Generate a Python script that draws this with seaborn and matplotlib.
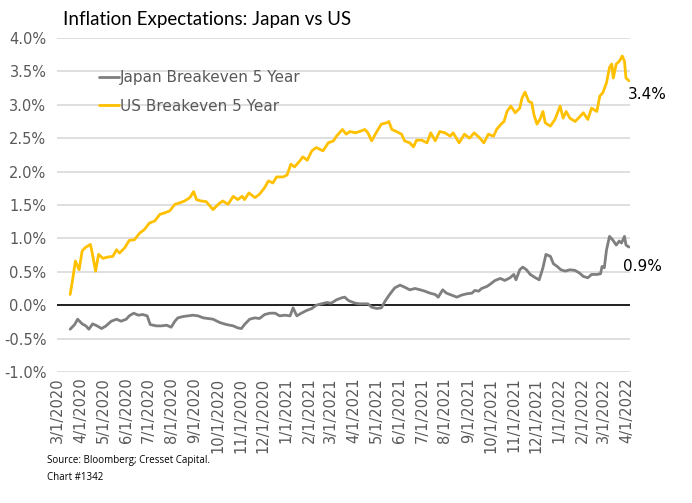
import matplotlib
matplotlib.use("Agg")
import matplotlib.pyplot as plt
import numpy as np
import pandas as pd
import seaborn as sns

# ==========================================
# Data
# days are counted from 3/1/2020, values in %
# ==========================================

START = pd.Timestamp("2020-03-01")

us_days = [
    17, 20, 24, 27, 29, 33, 37, 44, 46, 51, 55, 61, 67, 74, 79, 83, 90, 96,
    103, 110, 116, 123, 130, 137, 143, 150, 157, 163, 170, 177, 182, 186,
    192, 199, 208, 215, 221, 228, 235, 241, 247, 250, 256, 264, 270, 277,
    282, 288, 293, 302, 307, 312, 317, 324, 328, 334, 340, 346, 355, 362,
    369, 373, 381, 386, 391, 398, 404, 411, 415, 420, 427, 433, 440, 443,
    447, 453, 460, 464, 471, 476, 480, 487, 494, 499, 505, 511, 518, 525,
    529, 537, 544, 551, 557, 564, 570, 576, 583, 587, 593, 597, 601, 606,
    612, 618, 621, 625, 630, 634, 637, 641, 645, 649, 652, 659, 665, 672,
    676, 680, 685, 692, 699, 703, 709, 714, 721, 725, 729, 734, 738, 741,
    743, 747, 751, 755, 758, 760, 764,
]
us_values = [
    0.16, 0.36, 0.66, 0.58, 0.53, 0.81, 0.86, 0.91, 0.81, 0.51, 0.76, 0.70,
    0.72, 0.73, 0.83, 0.78, 0.86, 0.97, 0.98, 1.08, 1.13, 1.23, 1.26, 1.36,
    1.38, 1.41, 1.51, 1.53, 1.56, 1.61, 1.70, 1.58, 1.56, 1.55, 1.43, 1.51,
    1.56, 1.51, 1.63, 1.58, 1.63, 1.58, 1.68, 1.61, 1.66, 1.76, 1.86, 1.83,
    1.92, 1.92, 1.95, 2.11, 2.07, 2.16, 2.22, 2.17, 2.31, 2.36, 2.31, 2.43,
    2.46, 2.53, 2.63, 2.56, 2.60, 2.58, 2.60, 2.63, 2.58, 2.46, 2.60, 2.71,
    2.73, 2.75, 2.63, 2.60, 2.56, 2.46, 2.43, 2.37, 2.47, 2.47, 2.43, 2.58,
    2.46, 2.60, 2.58, 2.53, 2.58, 2.43, 2.56, 2.50, 2.58, 2.51, 2.43, 2.56,
    2.53, 2.63, 2.71, 2.75, 2.90, 2.98, 2.88, 2.95, 3.10, 3.19, 3.05, 3.03,
    2.85, 2.71, 2.78, 2.90, 2.73, 2.68, 2.78, 2.98, 2.80, 2.90, 2.80, 2.75,
    2.83, 2.88, 2.78, 2.95, 2.90, 3.13, 3.18, 3.33, 3.56, 3.61, 3.40, 3.61,
    3.65, 3.73, 3.65, 3.40, 3.36,
]

japan_days = [
    17, 23, 27, 33, 38, 42, 47, 53, 59, 65, 72, 79, 85, 92, 96, 102, 108,
    114, 120, 124, 132, 139, 146, 152, 157, 161, 168, 174, 181, 188, 195,
    201, 208, 217, 226, 235, 241, 246, 250, 257, 264, 270, 277, 284, 291,
    297, 304, 311, 315, 320, 326, 333, 340, 346, 353, 360, 366, 373, 380,
    384, 389, 391, 398, 404, 411, 415, 420, 427, 433, 438, 444, 451, 458,
    464, 471, 478, 485, 491, 498, 505, 509, 515, 520, 527, 534, 540, 547,
    554, 558, 563, 567, 574, 578, 585, 592, 598, 605, 610, 613, 618, 622,
    627, 632, 639, 644, 649, 653, 659, 663, 668, 673, 679, 685, 692, 698,
    703, 709, 714, 721, 726, 728, 731, 734, 738, 742, 747, 751, 754, 758,
    760, 764,
]
japan_values = [
    -0.36, -0.29, -0.21, -0.28, -0.31, -0.36, -0.28, -0.31, -0.35, -0.31,
    -0.24, -0.21, -0.24, -0.21, -0.16, -0.12, -0.15, -0.14, -0.16, -0.29,
    -0.31, -0.31, -0.30, -0.33, -0.24, -0.19, -0.17, -0.16, -0.15, -0.16,
    -0.19, -0.20, -0.21, -0.26, -0.29, -0.31, -0.34, -0.35, -0.29, -0.21,
    -0.19, -0.20, -0.14, -0.12, -0.12, -0.16, -0.15, -0.16, -0.04, -0.16,
    -0.12, -0.08, -0.05, 0.00, 0.02, 0.04, 0.03, 0.08, 0.11, 0.12, 0.07,
    0.06, 0.03, 0.02, 0.02, 0.02, -0.03, -0.05, -0.04, 0.06, 0.16, 0.26,
    0.30, 0.27, 0.23, 0.25, 0.23, 0.21, 0.18, 0.16, 0.12, 0.23, 0.18, 0.15,
    0.12, 0.15, 0.17, 0.18, 0.22, 0.21, 0.25, 0.28, 0.31, 0.37, 0.40, 0.37,
    0.41, 0.46, 0.38, 0.53, 0.57, 0.53, 0.46, 0.41, 0.38, 0.56, 0.76, 0.73,
    0.62, 0.58, 0.53, 0.51, 0.53, 0.52, 0.48, 0.43, 0.41, 0.46, 0.46, 0.47,
    0.58, 0.56, 0.83, 1.03, 0.98, 0.90, 0.96, 0.93, 1.03, 0.90, 0.87,
]

series_names = ["Japan Breakeven 5 Year", "US Breakeven 5 Year"]
series_colors = ["#7F7F7F", "#FFC000"]
end_labels = ["0.9%", "3.4%"]

y_ticks = [-1.0, -0.5, 0.0, 0.5, 1.0, 1.5, 2.0, 2.5, 3.0, 3.5, 4.0]
tick_dates = pd.date_range("2020-03-01", "2022-04-01", freq="MS")

title = "Inflation Expectations: Japan vs US"
source = "Source: Bloomberg; Cresset Capital.\nChart #1342"


def main():

    # ==========================================
    # Build long table
    # ==========================================

    japan = pd.DataFrame({
        "date": START + pd.to_timedelta(japan_days, unit="D"),
        "value": japan_values,
        "series": series_names[0],
    })
    us = pd.DataFrame({
        "date": START + pd.to_timedelta(us_days, unit="D"),
        "value": us_values,
        "series": series_names[1],
    })
    df = pd.concat([japan, us], ignore_index=True)

    # ==========================================
    # Figure
    # ==========================================

    sns.set_style("white")
    plt.rcParams["font.family"] = ["DejaVu Sans"]

    fig = plt.figure(figsize=(6.92, 5.03), dpi=100)
    ax = fig.add_axes([0.083, 0.2605, 0.827, 0.664])

    sns.lineplot(
        data=df,
        x="date",
        y="value",
        hue="series",
        hue_order=series_names,
        palette=series_colors,
        linewidth=2.0,
        ax=ax,
    )

    # zero line
    ax.axhline(0, color="black", linewidth=1.2, zorder=1)

    # ==========================================
    # Axes styling
    # ==========================================

    ax.set_ylim(-1.0, 4.0)
    ax.set_xlim(pd.Timestamp("2020-03-01"), pd.Timestamp("2022-04-05"))

    ax.set_yticks(y_ticks)
    ax.set_yticklabels([f"{t:.1f}%" for t in y_ticks], fontsize=10.5,
                       color="#595959")
    ax.yaxis.grid(True, color="#D9D9D9", linewidth=1.2)
    ax.set_axisbelow(True)

    ax.set_xticks(tick_dates)
    ax.set_xticklabels(
        [f"{d.month}/{d.day}/{d.year}" for d in tick_dates],
        rotation=90,
        fontsize=10.5,
        color="#595959",
    )
    ax.tick_params(axis="x", length=0, pad=4)
    ax.tick_params(axis="y", length=0, pad=8)

    ax.set_xlabel("")
    ax.set_ylabel("")

    for spine in ax.spines.values():
        spine.set_visible(False)

    # ==========================================
    # Legend and labels
    # ==========================================

    leg = ax.legend(
        loc="upper left",
        bbox_to_anchor=(0.048, 0.945),
        frameon=False,
        fontsize=11,
        handlelength=1.3,
        handletextpad=0.1,
        labelspacing=0.9,
    )
    for text in leg.get_texts():
        text.set_color("#595959")

    last_japan = japan.iloc[-1]
    last_us = us.iloc[-1]
    ax.annotate(end_labels[1], (last_us["date"], last_us["value"]),
                xytext=(-1, -10), textcoords="offset points",
                fontsize=11, color="black", va="center", ha="left")
    ax.annotate(end_labels[0], (last_japan["date"], last_japan["value"]),
                xytext=(-4, -14), textcoords="offset points",
                fontsize=11, color="black", va="center", ha="left")

    fig.text(0.091, 0.945, title, fontsize=13.5, family="Lato",
             color="black", va="bottom")

    fig.text(0.068, 0.040, source, fontsize=7, family="Open Sans",
             color="black", va="bottom", linespacing=1.7)

    fig.savefig("out.png", dpi=100)
    plt.close(fig)


if __name__ == "__main__":
    main()
